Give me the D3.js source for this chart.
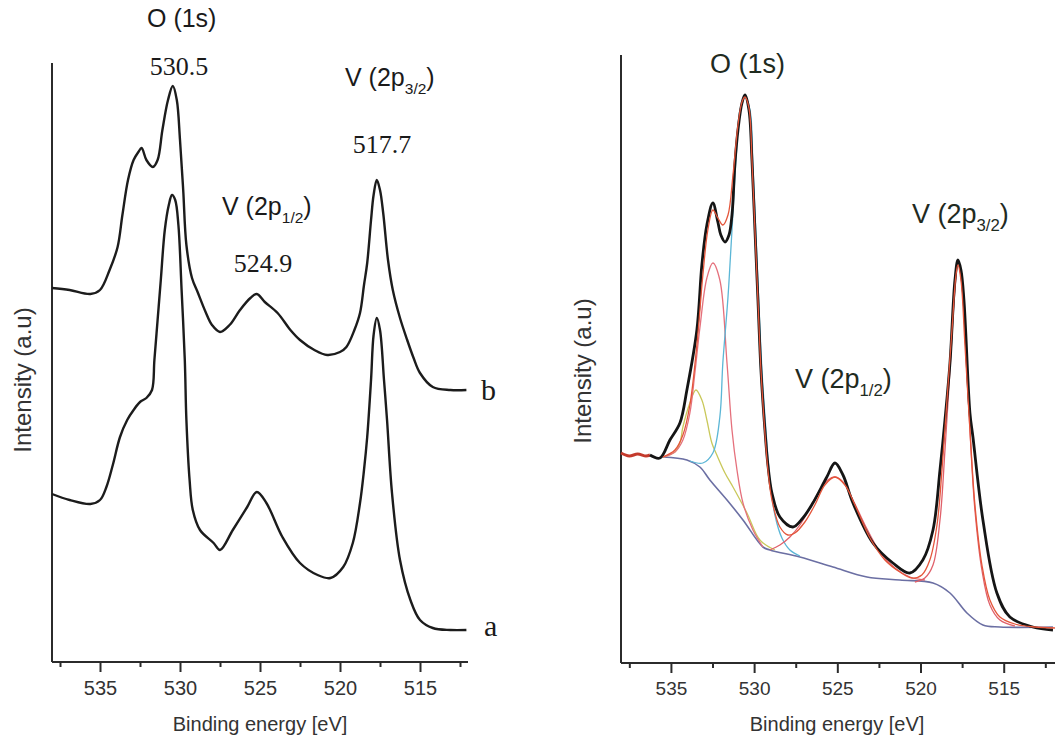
<!DOCTYPE html>
<html>
<head>
<meta charset="utf-8">
<script src="https://cdn.jsdelivr.net/npm/d3@7"></script>
<style>
  html, body { margin: 0; padding: 0; background: #fff; }
  svg { display: block; }
</style>
</head>
<body>
<svg id="chart" width="1055" height="741"></svg>
<script>
// ---------------- DATA ----------------
const majorTicks = [535, 530, 525, 520, 515];
const minorTicks = [537.5, 532.5, 527.5, 522.5, 517.5, 512.5];
const xTitle = "Binding energy [eV]";
const yTitle = "Intensity (a.u)";

// Left panel: two spectra [binding energy, intensity (a.u.)]
const curveB = [[538.0,374],[536.9,372],[535.6,368],[535.0,372],[534.4,392],[533.9,415],[533.6,447],[533.25,482],[532.9,502],[532.6,510],[532.4,514],[532.1,502],[531.7,495],[531.4,502],[531.1,532],[530.75,562],[530.45,576],[530.2,562],[530.0,522],[529.8,472],[529.6,417],[529.25,384],[528.9,370],[528.4,350],[528.0,337],[527.5,330],[526.9,337],[526.25,352],[525.6,364],[525.2,368],[524.7,360],[523.9,349],[523.1,332],[522.5,322],[521.6,312],[520.8,307],[520.0,310],[519.6,315],[519.1,332],[518.75,349],[518.5,377],[518.3,399],[518.06,442],[517.9,467],[517.7,482],[517.5,472],[517.3,449],[517.0,402],[516.7,372],[516.25,344],[515.8,322],[515.4,304],[515.0,289],[514.2,275],[513.1,272],[512.1,272]];
const curveA = [[538.0,168],[536.9,162],[535.6,158],[535.0,162],[534.6,175],[534.2,197],[533.75,225],[533.3,242],[532.9,252],[532.5,260],[532.1,264],[531.75,272],[531.6,302],[531.4,342],[531.2,382],[530.95,432],[530.7,457],[530.5,467],[530.3,462],[530.1,437],[529.9,372],[529.7,302],[529.6,242],[529.4,182],[529.2,152],[528.75,132],[527.9,119],[527.5,112],[526.7,132],[525.8,155],[525.2,170],[524.6,159],[523.6,125],[522.5,99],[521.4,87],[520.6,84],[519.8,95],[519.2,119],[518.75,159],[518.5,192],[518.3,225],[518.06,282],[517.9,327],[517.7,344],[517.5,332],[517.25,282],[517.06,242],[516.75,169],[516.25,102],[515.6,62],[515.0,42],[514.2,34],[513.1,32],[512.1,32]];
const leftLabels = [
  {main: "O (1s)", sub: "", ev: 530.4, kind: "sans"},
  {main: "V (2p", sub: "3/2", ev: 517.7, kind: "sans"},
  {main: "V (2p", sub: "1/2", ev: 524.9, kind: "sans"}
];
const peakValues = ["530.5", "517.7", "524.9"];
const curveNames = ["b", "a"];

// Right panel: measured spectrum and fitted components
const rawRedLeft = [[538.0,210],[537.5,207],[537.0,209],[536.5,207],[536.26,208]];
const measured = [[536.26,208],[535.66,205],[535.06,223],[534.46,240],[534.04,273],[533.44,333],[533.14,398],[532.84,438],[532.48,460],[532.18,441],[532.0,428],[531.75,421],[531.51,428],[531.33,448],[531.15,500],[530.97,533],[530.73,560],[530.55,568],[530.31,553],[530.13,503],[529.95,433],[529.77,363],[529.59,293],[529.35,233],[529.17,198],[528.93,170],[528.45,146],[527.67,136],[527.07,145],[526.47,160],[525.63,186],[525.14,200],[524.66,188],[524.06,160],[522.86,120],[521.66,100],[520.64,90],[519.86,103],[519.25,133],[518.83,193],[518.53,243],[518.23,300],[517.93,383],[517.75,403],[517.57,393],[517.39,363],[517.03,250],[516.85,226],[516.25,143],[515.41,70],[514.63,46],[513.25,36],[512.04,33]];
const background = [[535.48,206],[534.04,203],[533.26,196],[532.66,183],[531.63,163],[530.67,143],[529.47,116],[529.05,113],[527.25,106],[525.26,96],[523.22,86],[521.24,83],[519.25,80],[518.23,70],[517.21,50],[516.25,38],[515.23,36],[512.04,36]];
const compO3 = [[535.48,206],[534.76,211],[534.46,220],[534.28,236],[533.86,260],[533.5,273],[533.14,263],[532.84,243],[532.54,220],[532.24,208],[531.75,190],[531.27,176],[530.43,150],[529.65,123],[528.75,113]];
const compO2 = [[535.48,206],[534.76,211],[534.28,223],[533.86,250],[533.56,290],[533.26,335],[532.84,385],[532.48,400],[532.06,383],[531.63,300],[531.33,233],[531.03,193],[530.67,160],[530.07,133],[529.47,116]];
const compO1 = [[533.86,202],[533.08,200],[532.48,210],[532.06,246],[531.88,300],[531.57,366],[531.33,433],[531.09,503],[530.85,553],[530.55,566],[530.25,553],[530.07,498],[529.89,428],[529.71,358],[529.53,293],[529.29,233],[529.05,183],[528.75,148],[528.33,125],[527.85,113],[527.25,107]];
const compV12 = [[529.05,113],[528.45,118],[527.85,126],[527.25,138],[526.65,155],[526.05,173],[525.57,183],[525.14,186],[524.66,181],[524.06,163],[523.34,138],[522.44,111],[521.54,95],[520.64,86],[519.74,83]];
const compV32 = [[520.34,81],[519.74,85],[519.25,98],[518.83,143],[518.53,213],[518.23,293],[517.93,373],[517.75,401],[517.51,378],[517.27,313],[517.03,233],[516.73,153],[516.31,93],[515.83,58],[515.23,43],[514.33,37]];
const envelope = [[535.48,206],[534.76,213],[534.28,228],[533.86,258],[533.44,318],[533.08,388],[532.78,433],[532.48,453],[532.18,445],[531.88,438],[531.57,448],[531.27,488],[530.97,538],[530.73,561],[530.55,566],[530.31,555],[530.13,503],[529.95,433],[529.77,363],[529.59,293],[529.35,230],[529.17,193],[528.93,163],[528.45,136],[527.97,128],[527.55,130],[526.95,141],[526.35,158],[525.75,178],[525.14,186],[524.54,178],[523.94,158],[523.04,125],[522.14,103],[521.24,91],[520.52,85],[519.92,88],[519.44,103],[519.01,138],[518.71,193],[518.41,263],[518.11,333],[517.87,388],[517.75,398],[517.57,383],[517.33,318],[517.03,233],[516.73,158],[516.31,98],[515.83,63],[515.23,46],[514.33,39],[513.13,36],[511.92,35]];

// ---------------- DRAW ----------------
const svg = d3.select("#chart");
const SANS = "'Liberation Sans', Arial, sans-serif";
const SERIF = "'Liberation Serif', 'Times New Roman', serif";

function panel(opt) {
  const x = d3.scaleLinear().domain(opt.xDomain).range(opt.xRange);
  const y = d3.scaleLinear().domain(opt.yDomain).range(opt.yRange);
  const g = svg.append("g");
  const axisColor = "#2b2b2b";

  // y axis (line only)
  g.append("line")
    .attr("x1", opt.xRange[0]).attr("x2", opt.xRange[0])
    .attr("y1", opt.yTop).attr("y2", opt.yRange[0])
    .attr("stroke", axisColor).attr("stroke-width", 2);

  // x axis
  const ax = g.append("g").attr("transform", `translate(0,${opt.yRange[0]})`)
    .call(d3.axisBottom(x).tickValues(majorTicks).tickSize(10).tickPadding(9).tickFormat(d3.format("d")));
  ax.select(".domain").attr("stroke", axisColor).attr("stroke-width", 2)
    .attr("d", `M${opt.xRange[0]},0H${opt.xRange[1]}`);
  ax.selectAll(".tick line").attr("stroke", axisColor).attr("stroke-width", 2);
  ax.selectAll(".tick text").attr("font-family", SANS).attr("font-size", opt.tickFont).attr("fill", "#333");
  const minor = g.append("g").attr("transform", `translate(0,${opt.yRange[0]})`)
    .call(d3.axisBottom(x).tickValues(minorTicks).tickSize(5).tickFormat(""));
  minor.select(".domain").remove();
  minor.selectAll(".tick line").attr("stroke", axisColor).attr("stroke-width", 2);

  // titles
  g.append("text").attr("x", (opt.xRange[0] + opt.xTitleRight) / 2 + opt.xTitleShift).attr("y", 731)
    .attr("text-anchor", "middle").attr("font-family", SANS).attr("font-size", 20).attr("fill", "#333")
    .text(xTitle);
  g.append("text").attr("transform", `translate(${opt.yTitleX},${opt.yTitleY}) rotate(-90)`)
    .attr("text-anchor", "middle").attr("dominant-baseline", "central")
    .attr("font-family", SANS).attr("font-size", 24).attr("fill", "#333")
    .text(yTitle);

  const line = d3.line().x(d => x(d[0])).y(d => y(d[1])).curve(d3.curveCatmullRom.alpha(0.5));
  return {x, y, g, line};
}

// Left panel
const L = panel({xDomain: [538, 512], xRange: [52, 468], yDomain: [0, 600], yRange: [662, 62], yTop: 63,
  tickFont: 20, xTitleRight: 468, xTitleShift: 0, yTitleX: 22, yTitleY: 380});
[curveB, curveA].forEach(c => {
  L.g.append("path").attr("d", L.line(c)).attr("fill", "none")
    .attr("stroke", "#1c1c1c").attr("stroke-width", 2.4).attr("stroke-linejoin", "round");
});

function labelSub(g, xPos, yPos, main, sub, size, color) {
  const t = g.append("text").attr("x", xPos).attr("y", yPos)
    .attr("font-family", SANS).attr("font-size", size).attr("fill", color);
  t.append("tspan").text(main);
  if (sub) {
    t.append("tspan").attr("font-size", size * 0.62).attr("dy", size * 0.3).text(sub);
    t.append("tspan").attr("dy", -size * 0.3).text(")");
  }
}
// left labels
labelSub(L.g, 147, 27, leftLabels[0].main, leftLabels[0].sub, 25, "#1a1a1a");
labelSub(L.g, 345, 86, leftLabels[1].main, leftLabels[1].sub, 25, "#1a1a1a");
labelSub(L.g, 222, 215, leftLabels[2].main, leftLabels[2].sub, 25, "#1a1a1a");
const valPos = [[179, 75], [382, 153], [263, 272]];
peakValues.forEach((v, i) => {
  L.g.append("text").attr("x", valPos[i][0]).attr("y", valPos[i][1]).attr("text-anchor", "middle")
    .attr("font-family", SERIF).attr("font-size", 26).attr("fill", "#1a1a1a").text(v);
});
L.g.append("text").attr("x", 481).attr("y", 400).attr("font-family", SERIF).attr("font-size", 30).attr("fill", "#1a1a1a").text(curveNames[0]);
L.g.append("text").attr("x", 484).attr("y", 636).attr("font-family", SERIF).attr("font-size", 30).attr("fill", "#1a1a1a").text(curveNames[1]);

// Right panel
const R = panel({xDomain: [538, 511.9], xRange: [621, 1055.3], yDomain: [0, 610], yRange: [663, 53], yTop: 55,
  tickFont: 19, xTitleRight: 1055, xTitleShift: -1, yTitleX: 582, yTitleY: 371});

const comps = [
  {d: background, c: "#6b6fa3", w: 1.6},
  {d: compO3, c: "#c9c85a", w: 1.3},
  {d: compO2, c: "#e5707c", w: 1.3},
  {d: compO1, c: "#5bb6d6", w: 1.3},
  {d: compV12, c: "#e0606a", w: 1.3},
  {d: compV32, c: "#e0606a", w: 1.3},
  {d: rawRedLeft, c: "#c43a2c", w: 3},
  {d: measured, c: "#151515", w: 2.8},
  {d: envelope, c: "#e4553a", w: 1.3}
];
comps.forEach(s => {
  R.g.append("path").attr("d", R.line(s.d)).attr("fill", "none")
    .attr("stroke", s.c).attr("stroke-width", s.w).attr("stroke-linejoin", "round");
});
labelSub(R.g, 710, 73, "O (1s)", "", 27, "#1f2b1f");
labelSub(R.g, 912, 223, "V (2p", "3/2", 27, "#1f2b1f");
labelSub(R.g, 795, 388, "V (2p", "1/2", 27, "#1f2b1f");
</script>
</body>
</html>
